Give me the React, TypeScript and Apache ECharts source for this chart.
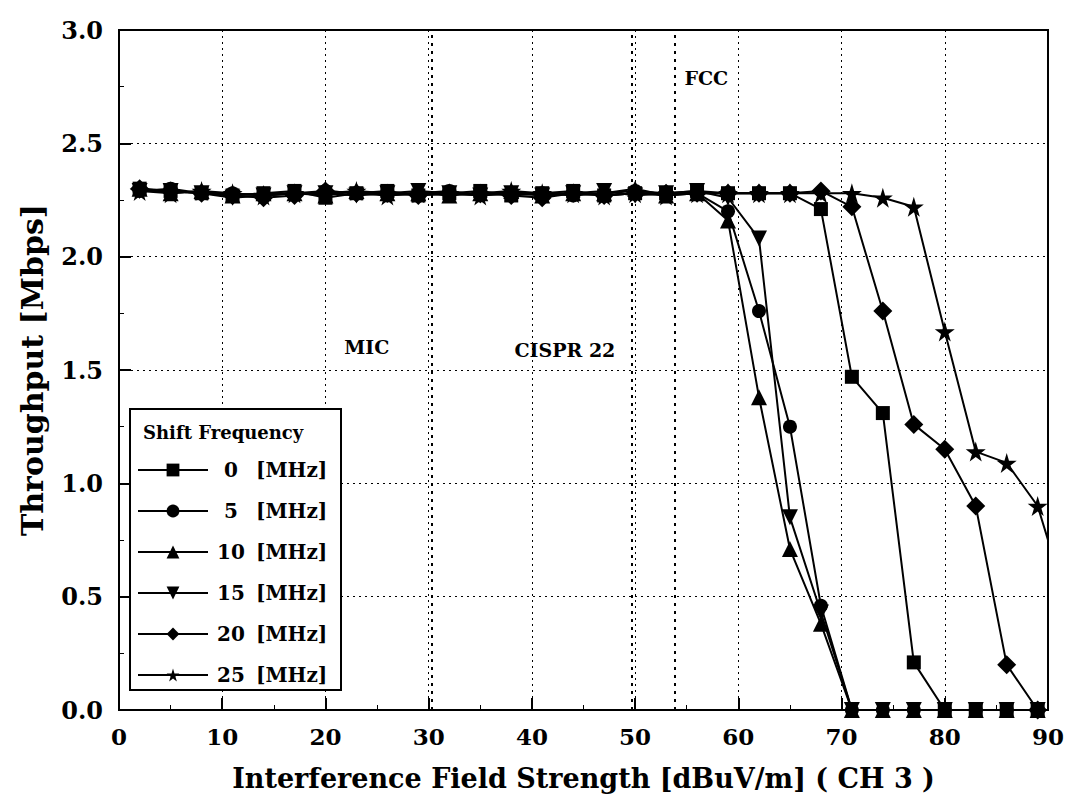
import React, { useEffect, useRef } from "react";
import * as echarts from "echarts";

const X = [2, 5, 8, 11, 14, 17, 20, 23, 26, 29, 32, 35, 38, 41, 44, 47, 50, 53, 56, 59, 62, 65, 68, 71, 74, 77, 80, 83, 86, 89];
const X25 = [...X, 92];

const s0 = [2.30, 2.29, 2.28, 2.27, 2.28, 2.29, 2.26, 2.28, 2.29, 2.27, 2.28, 2.29, 2.27, 2.28, 2.29, 2.27, 2.28, 2.28, 2.29, 2.28, 2.28, 2.28, 2.21, 1.47, 1.31, 0.21, 0.00, 0.00, 0.00, 0.00];
const s5 = [2.29, 2.30, 2.28, 2.28, 2.27, 2.28, 2.29, 2.28, 2.27, 2.28, 2.29, 2.27, 2.28, 2.28, 2.27, 2.28, 2.29, 2.28, 2.28, 2.20, 1.76, 1.25, 0.46, 0.00, 0.00, 0.00, 0.00, 0.00, 0.00, 0.00];
const s10 = [2.30, 2.28, 2.29, 2.27, 2.28, 2.28, 2.27, 2.29, 2.28, 2.28, 2.27, 2.28, 2.29, 2.27, 2.28, 2.28, 2.30, 2.27, 2.28, 2.16, 1.38, 0.71, 0.38, 0.00, 0.00, 0.00, 0.00, 0.00, 0.00, 0.00];
const s15 = [2.29, 2.29, 2.28, 2.26, 2.27, 2.28, 2.28, 2.27, 2.28, 2.29, 2.28, 2.27, 2.28, 2.27, 2.28, 2.29, 2.27, 2.28, 2.29, 2.26, 2.08, 0.85, 0.43, 0.00, 0.00, 0.00, 0.00, 0.00, 0.00, 0.00];
const s20 = [2.30, 2.29, 2.28, 2.27, 2.26, 2.27, 2.29, 2.28, 2.28, 2.27, 2.28, 2.28, 2.27, 2.26, 2.28, 2.27, 2.28, 2.28, 2.28, 2.28, 2.28, 2.28, 2.29, 2.22, 1.76, 1.26, 1.15, 0.90, 0.20, 0.00];
const s25 = [2.29, 2.28, 2.29, 2.28, 2.27, 2.28, 2.28, 2.29, 2.27, 2.28, 2.28, 2.27, 2.29, 2.28, 2.28, 2.27, 2.28, 2.27, 2.28, 2.28, 2.28, 2.28, 2.28, 2.28, 2.26, 2.22, 1.67, 1.14, 1.09, 0.90, 0.45];

const seriesNames = ["0 [MHz]", "5 [MHz]", "10 [MHz]", "15 [MHz]", "20 [MHz]", "25 [MHz]"];
const limitLines = [
  { name: "MIC", x: 30.3 },
  { name: "CISPR 22", x: 49.7 },
  { name: "FCC", x: 53.8 },
];
const annotations = [
  { name: "MIC", x: 24.0, y: 1.6 },
  { name: "CISPR 22", x: 43.2, y: 1.59 },
  { name: "FCC", x: 56.9, y: 2.79 },
];

const SERIF = "'DejaVu Serif', serif";
const STAR = "path://M50,0 L61,35 L98,35 L68,57 L79,91 L50,70 L21,91 L32,57 L2,35 L39,35 Z";
const DOWNTRI = "path://M0,0 L100,0 L50,87 Z";

export default function App() {
  const ref = useRef<HTMLDivElement>(null);
  useEffect(() => {
    document.body.style.margin = "0";
    const chart = echarts.init(ref.current!, null, { renderer: "svg" });
    const mk = (name: string, xs: number[], ys: number[], symbol: string, size: number) => ({
      name,
      type: "line",
      data: xs.map((x, i) => [x, ys[i]]),
      symbol,
      symbolSize: size,
      showAllSymbol: true,
      itemStyle: { color: "#000" },
      lineStyle: { color: "#000", width: 2 },
      z: 3,
    });
    const series: any[] = [
      mk(seriesNames[0], X, s0, "rect", 14),
      mk(seriesNames[1], X, s5, "circle", 14),
      mk(seriesNames[2], X, s10, "triangle", 16),
      mk(seriesNames[3], X, s15, DOWNTRI, 16),
      mk(seriesNames[4], X, s20, "diamond", 19),
      mk(seriesNames[5], X25, s25, STAR, 20),
    ];
    series[0].markLine = {
      silent: true,
      symbol: ["none", "none"],
      label: { show: false },
      lineStyle: { color: "#000", type: [3, 5], width: 2 },
      data: limitLines.map((l) => ({ xAxis: l.x, name: l.name })),
    };
    series.push({
      name: "labels",
      type: "scatter",
      symbolSize: 0,
      itemStyle: { color: "#000", opacity: 1 },
      data: annotations.map((a) => ({ name: a.name, value: [a.x, a.y] })),
      label: {
        show: true,
        position: "inside",
        formatter: (p: any) => p.name,
        color: "#000",
        textBorderWidth: 0,
        textBorderColor: "transparent",
        opacity: 1,
        fontFamily: SERIF,
        fontWeight: "bold",
        fontSize: 19,
      },
      silent: true,
      z: 4,
    });

    chart.setOption({
      animation: false,
      backgroundColor: "#fff",
      grid: { left: 119, right: 15, top: 30, bottom: 94, show: true, borderColor: "#000", borderWidth: 2 },
      xAxis: {
        type: "value",
        min: 0,
        max: 90,
        interval: 10,
        name: "Interference Field Strength [dBuV/m] ( CH 3 )",
        nameLocation: "middle",
        nameGap: 55,
        nameTextStyle: { fontFamily: SERIF, fontWeight: "bold", fontSize: 27, color: "#000" },
        axisLine: { lineStyle: { color: "#000", width: 2 } },
        axisTick: { inside: true, length: 12, lineStyle: { color: "#000", width: 2 } },
        minorTick: { show: true, splitNumber: 2, length: 5, lineStyle: { color: "#000", width: 1 } },
        splitLine: { show: true, lineStyle: { color: "#000", type: [2, 4], width: 1 } },
        axisLabel: { fontFamily: SERIF, fontWeight: "bold", fontSize: 23, color: "#000", margin: 15 },
      },
      yAxis: {
        type: "value",
        min: 0,
        max: 3,
        interval: 0.5,
        name: "Throughput [Mbps]",
        nameLocation: "middle",
        nameGap: 72,
        nameTextStyle: { fontFamily: SERIF, fontWeight: "bold", fontSize: 30, color: "#000" },
        axisLine: { lineStyle: { color: "#000", width: 2 } },
        axisTick: { inside: true, length: 12, lineStyle: { color: "#000", width: 2 } },
        minorTick: { show: true, splitNumber: 2, length: 5, lineStyle: { color: "#000", width: 1 } },
        splitLine: { show: true, lineStyle: { color: "#000", type: [2, 4], width: 1 } },
        axisLabel: {
          fontFamily: SERIF,
          fontWeight: "bold",
          fontSize: 24,
          color: "#000",
          margin: 16,
          formatter: (v: number) => v.toFixed(1),
        },
      },
      legend: {
        data: seriesNames,
        orient: "vertical",
        left: 137,
        top: 459,
        padding: 0,
        itemWidth: 70,
        itemHeight: 16,
        itemGap: 19,
        z: 6,
        formatter: (name: string) => {
          const [n, u] = name.split(" ");
          return `{n|${n}} {u|${u}}`;
        },
        textStyle: {
          color: "#000",
          fontFamily: SERIF,
          fontWeight: "bold",
          fontSize: 20,
          lineHeight: 22,
          rich: {
            n: { width: 36, align: "right", fontFamily: SERIF, fontWeight: "bold", fontSize: 20, lineHeight: 22 },
            u: { fontFamily: SERIF, fontWeight: "bold", fontSize: 20, lineHeight: 22 },
          },
        },
      },
      graphic: [
        {
          type: "rect",
          z: 5,
          shape: { x: 130, y: 409, width: 211, height: 281 },
          style: { fill: "#fff", stroke: "#000", lineWidth: 2 },
        },
        {
          type: "text",
          z: 6,
          x: 143,
          y: 432,
          style: {
            text: "Shift Frequency",
            fill: "#000",
            font: `bold 18px ${SERIF}`,
            verticalAlign: "middle",
          },
        },
      ],
      series,
    });
    return () => chart.dispose();
  }, []);
  return <div ref={ref} style={{ width: 1067, height: 804 }} />;
}
